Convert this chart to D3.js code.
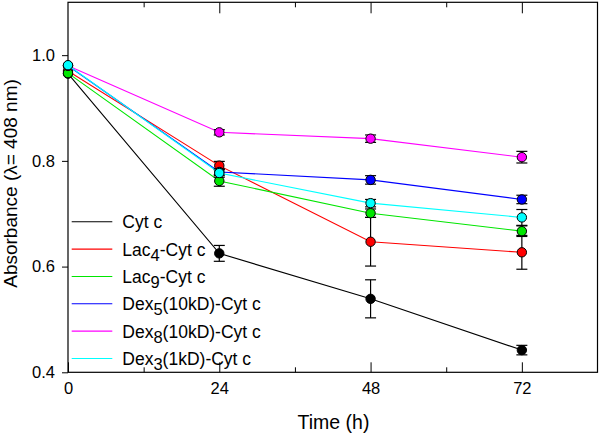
<!DOCTYPE html>
<html>
<head>
<meta charset="utf-8">
<script src="https://cdn.jsdelivr.net/npm/d3@7"></script>
<style>
  html, body { margin: 0; padding: 0; background: #fff; }
  svg { display: block; }
  text { font-family: Arial, "Liberation Sans", sans-serif; fill: #000; }
</style>
</head>
<body>
<svg id="chart" width="600" height="434"></svg>
<script>
// ---- data ----
const times = [0, 24, 48, 72];
const seriesNames = [
  ["Cyt c"],
  ["Lac", "4", "-Cyt c"],
  ["Lac", "9", "-Cyt c"],
  ["Dex", "5", "(10kD)-Cyt c"],
  ["Dex", "8", "(10kD)-Cyt c"],
  ["Dex", "3", "(1kD)-Cyt c"]
];
const seriesColors = ["#000000", "#ff0000", "#00e600", "#0000ff", "#ff00ff", "#00ffff"];
const cytC      = [0.965, 0.625, 0.539, 0.442];
const lac4      = [0.970, 0.791, 0.647, 0.627];
const lac9      = [0.966, 0.762, 0.701, 0.667];
const dex5_10kD = [0.980, 0.779, 0.764, 0.727];
const dex8_10kD = [0.980, 0.854, 0.842, 0.807];
const dex3_1kD  = [0.981, 0.777, 0.720, 0.693];
const errCytC   = [0, 0.015, 0.036, 0.009];
const errLac4   = [0, 0.008, 0.046, 0.032];
const errLac9   = [0, 0.010, 0.008, 0.010];
const errDex5   = [0, 0.005, 0.008, 0.008];
const errDex8   = [0, 0.005, 0.007, 0.011];
const errDex3   = [0, 0.008, 0.007, 0.015];
const xMajorTicks = [0, 24, 48, 72];
const xMinorTicks = [12, 36, 60];
const yTicks = [0.4, 0.6, 0.8, 1.0];
const xTitle = "Time (h)";
const yTitle = "Absorbance (\u03bb= 408 nm)";

const seriesValues = [cytC, lac4, lac9, dex5_10kD, dex8_10kD, dex3_1kD];
const seriesErrors = [errCytC, errLac4, errLac9, errDex5, errDex8, errDex3];

// ---- layout ----
const svg = d3.select("#chart");
const L = 68, R = 597.5, T = 2.3, B = 372.3;
const x = d3.scaleLinear().domain([0, 84]).range([L, R]);
const y = d3.scaleLinear().domain([0.4, 1.1]).range([B, T]);

// axes
const gBottom = svg.append("g").attr("transform", `translate(0,${B})`)
  .call(d3.axisBottom(x).tickValues(xMajorTicks).tickSize(-10).tickPadding(9.5).tickFormat(d3.format("d")));
const gBottomMinor = svg.append("g").attr("transform", `translate(0,${B})`)
  .call(d3.axisBottom(x).tickValues(xMinorTicks).tickSize(-5).tickFormat(""));
const gTop = svg.append("g").attr("transform", `translate(0,${T})`)
  .call(d3.axisTop(x).tickValues(xMajorTicks.filter(d => d > 0)).tickSize(-11).tickFormat(""));
const gTopMinor = svg.append("g").attr("transform", `translate(0,${T})`)
  .call(d3.axisTop(x).tickValues(xMinorTicks).tickSize(-5).tickFormat(""));
const gLeft = svg.append("g").attr("transform", `translate(${L},0)`)
  .call(d3.axisLeft(y).tickValues(yTicks).tickSize(6).tickPadding(7).tickFormat(d3.format(".1f")));

[gBottom, gBottomMinor, gTop, gTopMinor, gLeft].forEach(g => {
  g.select(".domain").remove();
  g.selectAll("line").attr("stroke", "#000").attr("stroke-width", 1);
  g.selectAll("text").attr("font-size", "16.5px")
    .attr("font-family", "Arial, 'Liberation Sans', sans-serif").attr("fill", "#000");
});

// frame
svg.append("rect").attr("x", L).attr("y", T).attr("width", R - L).attr("height", B - T)
  .attr("fill", "none").attr("stroke", "#000").attr("stroke-width", 1.2);

// titles
svg.append("text").attr("x", 333.5).attr("y", 429).attr("text-anchor", "middle")
  .attr("font-size", "19.5px").text(xTitle);
svg.append("text").attr("transform", "translate(16.5,183.5) rotate(-90)")
  .attr("text-anchor", "middle").attr("font-size", "19px").text(yTitle);

// series
const line = d3.line().x((d, i) => x(times[i])).y(d => y(d));
seriesValues.forEach((vals, s) => {
  const g = svg.append("g");
  g.append("path").datum(vals).attr("d", line).attr("fill", "none")
    .attr("stroke", seriesColors[s]).attr("stroke-width", 1.1);
  const errs = seriesErrors[s];
  vals.forEach((v, i) => {
    const e = errs[i];
    if (e > 0) {
      const cx = x(times[i]);
      g.append("line").attr("x1", cx).attr("x2", cx).attr("y1", y(v - e)).attr("y2", y(v + e))
        .attr("stroke", "#000").attr("stroke-width", 1.2);
      [v - e, v + e].forEach(w => {
        g.append("line").attr("x1", cx - 5.5).attr("x2", cx + 5.5).attr("y1", y(w)).attr("y2", y(w))
          .attr("stroke", "#000").attr("stroke-width", 1.2);
      });
    }
  });
  g.selectAll("circle").data(vals).enter().append("circle")
    .attr("cx", (d, i) => x(times[i])).attr("cy", d => y(d)).attr("r", 4.7)
    .attr("fill", seriesColors[s]).attr("stroke", "#000").attr("stroke-width", 1);
});

// legend
const legY = d3.scaleLinear().domain([0, 5]).range([221.8, 358.5]);
seriesNames.forEach((parts, i) => {
  const ly = legY(i);
  svg.append("line").attr("x1", 71.7).attr("x2", 112.3).attr("y1", ly).attr("y2", ly)
    .attr("stroke", seriesColors[i]).attr("stroke-width", 1.1);
  const t = svg.append("text").attr("x", 122.3).attr("y", ly + 6.5).attr("font-size", "17.5px");
  t.append("tspan").text(parts[0]);
  if (parts.length > 1) {
    t.append("tspan").attr("dy", 5).attr("font-size", "16.5px").text(parts[1]);
    t.append("tspan").attr("dy", -5).text(parts[2]);
  }
});
</script>
</body>
</html>
